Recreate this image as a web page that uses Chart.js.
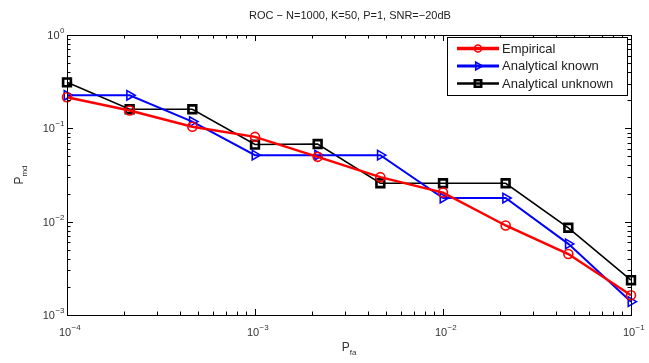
<!DOCTYPE html>
<html>
<head>
<meta charset="utf-8">
<script src="https://cdn.jsdelivr.net/npm/chart.js@4.4.0/dist/chart.umd.min.js"></script>
<style>
  html, body { margin: 0; padding: 0; background: #fff; }
  canvas { display: block; }
</style>
</head>
<body>
<canvas id="roc" width="649" height="363"></canvas>
<script>
// ===================== DATA =====================
const pfa = [1e-4, 2.154e-4, 4.642e-4, 1e-3, 2.154e-3, 4.642e-3, 1e-2, 2.154e-2, 4.642e-2, 1e-1];
const empirical = [0.215, 0.155, 0.104, 0.081, 0.0495, 0.030, 0.0205, 0.0091, 0.0045, 0.00163];
const analyticalKnown = [0.226, 0.226, 0.118, 0.0516, 0.0516, 0.0516, 0.0179, 0.0179, 0.00578, 0.00139];
const analyticalUnknown = [0.311, 0.160, 0.160, 0.067, 0.068, 0.0258, 0.0258, 0.0258, 0.0086, 0.00236];
const seriesNames = ['Empirical', 'Analytical known', 'Analytical unknown'];
const xTickExps = [-4, -3, -2, -1];
const yTickExps = [-3, -2, -1, 0];
const titleText = 'ROC \u2212 N=1000, K=50, P=1, SNR=\u221220dB';

const FONT = '"Liberation Sans", Arial, sans-serif';

// draw "10" with a superscript exponent
function drawPow(ctx, x, y, exp, align) {
  const base = '10';
  const sup = (exp < 0 ? '\u2212' : '') + Math.abs(exp);
  ctx.font = '11px ' + FONT;
  const wb = ctx.measureText(base).width;
  ctx.font = '8px ' + FONT;
  const ws = ctx.measureText(sup).width;
  let x0;
  if (align === 'center') x0 = x - wb / 2;
  else x0 = x - wb - ws; // right aligned
  ctx.textAlign = 'left';
  ctx.textBaseline = 'alphabetic';
  ctx.font = '11px ' + FONT;
  ctx.fillText(base, x0, y);
  ctx.font = '8px ' + FONT;
  ctx.fillText(sup, x0 + wb + 0.5, y - 6);
}

// ===================== MATLAB STYLE AXES =====================
const matlabAxes = {
  id: 'matlabAxes',
  afterDraw(chart) {
    const ctx = chart.ctx;
    const area = chart.chartArea;
    const xs = chart.scales.x;
    const ys = chart.scales.y;
    ctx.save();

    // box
    ctx.strokeStyle = '#000';
    ctx.lineWidth = 1;
    ctx.strokeRect(Math.round(area.left) + 0.5, Math.round(area.top) + 0.5,
      Math.round(area.right - area.left), Math.round(area.bottom - area.top));

    // ticks (inward, on all four sides)
    ctx.beginPath();
    for (let e = xTickExps[0]; e <= xTickExps[xTickExps.length - 1]; e++) {
      for (let m = 1; m <= 9; m++) {
        const v = m * Math.pow(10, e);
        if (v > xs.max * 1.0001) break;
        const px = Math.round(xs.getPixelForValue(v)) + 0.5;
        const len = m === 1 ? 6 : 3.5;
        ctx.moveTo(px, area.bottom); ctx.lineTo(px, area.bottom - len);
        ctx.moveTo(px, area.top); ctx.lineTo(px, area.top + len);
      }
    }
    for (let e = yTickExps[0]; e <= yTickExps[yTickExps.length - 1]; e++) {
      for (let m = 1; m <= 9; m++) {
        const v = m * Math.pow(10, e);
        if (v > ys.max * 1.0001) break;
        const py = Math.round(ys.getPixelForValue(v)) + 0.5;
        const len = m === 1 ? 6 : 3.5;
        ctx.moveTo(area.left, py); ctx.lineTo(area.left + len, py);
        ctx.moveTo(area.right, py); ctx.lineTo(area.right - len, py);
      }
    }
    ctx.stroke();

    // tick labels
    ctx.fillStyle = '#333';
    xTickExps.forEach(e => {
      drawPow(ctx, xs.getPixelForValue(Math.pow(10, e)) - 2, area.bottom + 21, e, 'center');
    });
    yTickExps.forEach(e => {
      drawPow(ctx, area.left - 3, ys.getPixelForValue(Math.pow(10, e)) + 4, e, 'right');
    });

    // title
    ctx.fillStyle = '#222';
    ctx.font = '11px ' + FONT;
    ctx.textAlign = 'center';
    ctx.textBaseline = 'alphabetic';
    ctx.fillText(titleText, (area.left + area.right) / 2 + 1, 19);

    // x axis label P_fa
    ctx.fillStyle = '#333';
    const cx = (area.left + area.right) / 2;
    ctx.font = '12px ' + FONT;
    const wP = ctx.measureText('P').width;
    ctx.font = '8px ' + FONT;
    const wfa = ctx.measureText('fa').width;
    let sx = cx - (wP + wfa) / 2;
    ctx.textAlign = 'left';
    ctx.font = '12px ' + FONT;
    ctx.fillText('P', sx, 351);
    ctx.font = '8px ' + FONT;
    ctx.fillText('fa', sx + wP, 355);

    // y axis label P_md (rotated)
    ctx.save();
    ctx.translate(23, (area.top + area.bottom) / 2);
    ctx.rotate(-Math.PI / 2);
    ctx.font = '8px ' + FONT;
    const wmd = ctx.measureText('md').width;
    sx = -(wP + wmd) / 2;
    ctx.font = '12px ' + FONT;
    ctx.fillText('P', sx, 0);
    ctx.font = '8px ' + FONT;
    ctx.fillText('md', sx + wP, 4);
    ctx.restore();

    // legend box
    const lx = 447.5, ly = 37.5, lw = 180, lh = 58;
    ctx.fillStyle = '#fff';
    ctx.fillRect(lx, ly, lw, lh);
    ctx.strokeStyle = '#000';
    ctx.lineWidth = 1;
    ctx.strokeRect(lx, ly, lw, lh);
    chart.data.datasets.forEach((ds, i) => {
      const y = 48.5 + i * 17.5;
      ctx.strokeStyle = ds.borderColor;
      ctx.lineWidth = ds.borderWidth + 0.8;
      ctx.beginPath();
      ctx.moveTo(457, y); ctx.lineTo(499, y);
      ctx.stroke();
      ctx.strokeStyle = ds.borderColor;
      ctx.fillStyle = 'rgba(0,0,0,0)';
      ctx.lineWidth = ds.pointBorderWidth;
      Chart.helpers.drawPoint(ctx, {
        pointStyle: ds.pointStyle,
        radius: ds.pointRadius - 1,
        rotation: ds.pointRotation || 0,
        borderWidth: ds.pointBorderWidth
      }, 478, y);
      ctx.fillStyle = '#222';
      ctx.font = '13px ' + FONT;
      ctx.textAlign = 'left';
      ctx.textBaseline = 'middle';
      ctx.fillText(seriesNames[i], 502, y + 0.5);
    });

    ctx.restore();
  }
};

function series(values, name, color, width, style, radius, rotation, pbw) {
  return {
    label: name,
    data: values.map((v, i) => ({ x: pfa[i], y: v })),
    borderColor: color,
    borderWidth: width,
    pointStyle: style,
    pointRadius: radius,
    pointRotation: rotation,
    pointBorderWidth: pbw,
    pointBorderColor: color,
    pointBackgroundColor: 'rgba(0,0,0,0)',
    tension: 0,
    fill: false,
    clip: false
  };
}

// ===================== CHART =====================
new Chart(document.getElementById('roc'), {
  type: 'line',
  data: {
    datasets: [
      series(empirical, seriesNames[0], '#ff0000', 2.5, 'circle', 4.5, 0, 1.6),
      series(analyticalKnown, seriesNames[1], '#0000ff', 2, 'triangle', 5.5, 90, 1.6),
      series(analyticalUnknown, seriesNames[2], '#000000', 1.6, 'rect', 5.5, 0, 2.6)
    ]
  },
  options: {
    responsive: false,
    animation: false,
    layout: { padding: { left: 0, right: 18, top: 35, bottom: 0 } },
    scales: {
      x: {
        type: 'logarithmic',
        min: 1e-4,
        max: 1e-1,
        ticks: { display: false },
        grid: { display: false },
        border: { display: false },
        afterFit: s => { s.height = 48; }
      },
      y: {
        type: 'logarithmic',
        min: 1e-3,
        max: 1,
        ticks: { display: false },
        grid: { display: false },
        border: { display: false },
        afterFit: s => { s.width = 67; }
      }
    },
    plugins: {
      legend: { display: false },
      title: { display: false },
      tooltip: { enabled: false }
    }
  },
  plugins: [matlabAxes]
});
</script>
</body>
</html>
